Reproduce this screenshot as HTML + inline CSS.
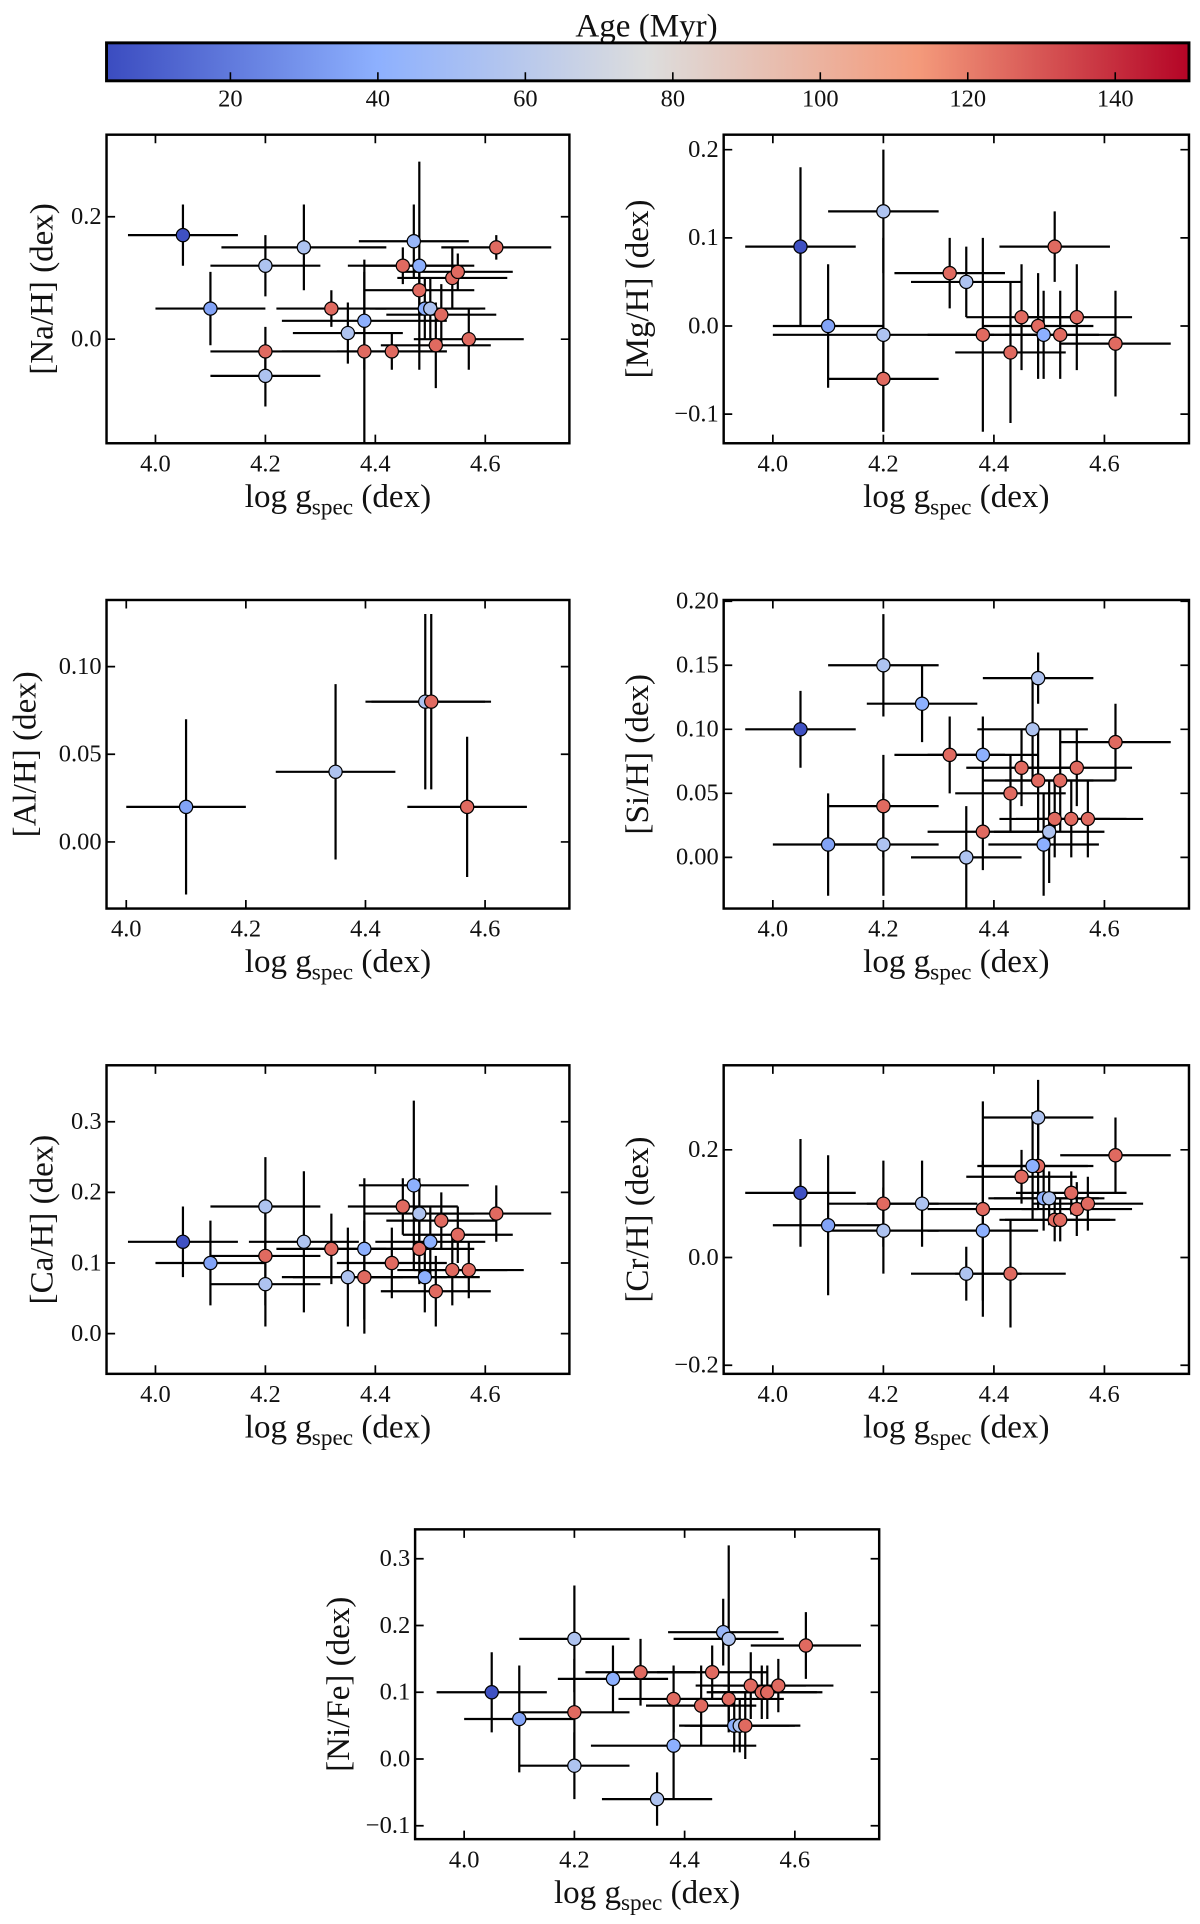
<!DOCTYPE html>
<html><head><meta charset="utf-8"><style>
html,body{margin:0;padding:0;background:#fff}
svg{display:block}
text{font-family:"Liberation Serif",serif;fill:#111}
</style></head><body>
<svg id="fig" width="1200" height="1924" viewBox="0 0 980 1571.3" preserveAspectRatio="none" xmlns="http://www.w3.org/2000/svg">
<defs>
<linearGradient id="cw" x1="0" x2="1" y1="0" y2="0">
<stop offset="0" stop-color="#3b4cc0"/><stop offset="0.25" stop-color="#8db0fe"/><stop offset="0.5" stop-color="#dddddd"/><stop offset="0.75" stop-color="#f49a7b"/><stop offset="1" stop-color="#b40426"/>
</linearGradient>
</defs>
<g id="cbar">
<text x="528" y="30" text-anchor="middle" font-size="27">Age (Myr)</text>
<rect x="87" y="35" width="884" height="31" fill="url(#cw)" stroke="#000" stroke-width="2.4"/>
</g>
<g id="panels"></g>
</svg>
<script>
// colorbar
const cbTicks=[20,40,60,80,100,120,140];
const ageMin=3.2, ageMax=150;
// data: x = log g, y = abundance, a = age, ex/ey = errors
const naX=[4.05,4.10,4.20,4.20,4.20,4.27,4.32,4.35,4.38,4.38,4.43,4.45,4.47,4.48,4.48,4.49,4.50,4.51,4.52,4.54,4.55,4.57,4.62];
const naY=[0.17,0.05,0.12,-0.02,-0.06,0.15,0.05,0.01,0.03,-0.02,-0.02,0.12,0.16,0.12,0.08,0.05,0.05,-0.01,0.04,0.10,0.11,0.00,0.15];
const naA=[5,35,55,125,55,55,125,55,40,125,125,125,45,40,125,40,55,125,125,125,125,125,125];
const naEx=[0.1,0.1,0.1,0.1,0.1,0.15,0.1,0.1,0.15,0.15,0.1,0.1,0.1,0.1,0.1,0.1,0.1,0.1,0.1,0.1,0.1,0.1,0.1];
const naEy=[0.05,0.06,0.05,0.04,0.05,0.07,0.03,0.05,0.08,0.15,0.03,0.03,0.06,0.17,0.04,0.05,0.05,0.07,0.05,0.05,0.03,0.05,0.02];

const mgX=[4.05,4.10,4.20,4.20,4.20,4.32,4.35,4.38,4.43,4.45,4.48,4.49,4.51,4.52,4.55,4.62];
const mgY=[0.09,0.00,0.13,-0.01,-0.06,0.06,0.05,-0.01,-0.03,0.01,0.00,-0.01,0.09,-0.01,0.01,-0.02];
const mgA=[5,35,55,55,125,125,55,125,125,125,125,40,125,125,125,125];
const mgEx=[0.1,0.1,0.1,0.2,0.1,0.1,0.1,0.1,0.1,0.1,0.1,0.1,0.1,0.1,0.1,0.1];
const mgEy=[0.09,0.07,0.07,0.11,0.06,0.04,0.04,0.11,0.08,0.06,0.06,0.05,0.04,0.05,0.06,0.06];

const alX=[4.10,4.35,4.50,4.51,4.57];
const alY=[0.02,0.04,0.08,0.08,0.02];
const alA=[35,55,55,125,125];
const alEx=[0.1,0.1,0.1,0.1,0.1];
const alEy=[0.05,0.05,0.05,0.05,0.04];

const siX=[4.05,4.10,4.20,4.20,4.20,4.27,4.32,4.35,4.38,4.38,4.43,4.45,4.48,4.47,4.48,4.49,4.50,4.51,4.52,4.54,4.55,4.57,4.62];
const siY=[0.10,0.01,0.15,0.04,0.01,0.12,0.08,0.00,0.08,0.02,0.05,0.07,0.14,0.10,0.06,0.01,0.02,0.03,0.06,0.03,0.07,0.03,0.09];
const siA=[5,35,55,125,55,40,125,55,40,125,125,125,55,55,125,40,55,125,125,125,125,125,125];
const siEx=[0.1,0.1,0.1,0.1,0.1,0.1,0.1,0.1,0.1,0.1,0.1,0.1,0.1,0.1,0.1,0.1,0.1,0.1,0.1,0.1,0.1,0.1,0.1];
const siEy=[0.03,0.04,0.04,0.04,0.04,0.03,0.03,0.04,0.03,0.03,0.03,0.03,0.02,0.04,0.04,0.04,0.04,0.03,0.04,0.03,0.03,0.03,0.03];

const caX=[4.05,4.10,4.20,4.20,4.20,4.27,4.32,4.35,4.38,4.38,4.43,4.45,4.47,4.48,4.48,4.49,4.50,4.51,4.52,4.54,4.55,4.57,4.62];
const caY=[0.13,0.10,0.18,0.11,0.07,0.13,0.12,0.08,0.12,0.08,0.10,0.18,0.21,0.17,0.12,0.08,0.13,0.06,0.16,0.09,0.14,0.09,0.17];
const caA=[5,35,55,125,55,55,125,55,40,125,125,125,40,55,125,40,40,125,125,125,125,125,125];
const caEx=[0.1,0.1,0.1,0.1,0.1,0.1,0.1,0.1,0.1,0.15,0.1,0.1,0.1,0.1,0.1,0.1,0.1,0.1,0.1,0.1,0.1,0.1,0.1];
const caEy=[0.05,0.06,0.07,0.07,0.06,0.10,0.05,0.07,0.10,0.08,0.05,0.04,0.12,0.05,0.05,0.05,0.05,0.05,0.04,0.05,0.04,0.04,0.04];

const crX=[4.05,4.10,4.20,4.20,4.27,4.35,4.38,4.38,4.43,4.45,4.48,4.48,4.47,4.49,4.50,4.51,4.52,4.54,4.55,4.57,4.62];
const crY=[0.12,0.06,0.10,0.05,0.10,-0.03,0.09,0.05,-0.03,0.15,0.26,0.17,0.17,0.11,0.11,0.07,0.07,0.12,0.09,0.10,0.19];
const crA=[5,35,125,55,55,55,125,40,125,125,55,125,40,40,55,125,125,125,125,125,125];
const crEx=[0.1,0.1,0.1,0.1,0.1,0.1,0.1,0.1,0.1,0.1,0.1,0.1,0.1,0.1,0.1,0.1,0.1,0.1,0.1,0.1,0.1];
const crEy=[0.1,0.13,0.08,0.08,0.08,0.05,0.2,0.13,0.1,0.05,0.07,0.08,0.1,0.06,0.05,0.04,0.04,0.04,0.05,0.05,0.07];

const niX=[4.05,4.10,4.20,4.20,4.20,4.27,4.32,4.35,4.38,4.38,4.43,4.45,4.47,4.48,4.48,4.49,4.50,4.51,4.52,4.54,4.55,4.57,4.62];
const niY=[0.10,0.06,0.18,0.07,-0.01,0.12,0.13,-0.06,0.09,0.02,0.08,0.13,0.19,0.18,0.09,0.05,0.05,0.05,0.11,0.10,0.10,0.11,0.17];
const niA=[5,35,55,125,55,40,125,55,125,40,125,125,45,55,125,40,55,125,125,125,125,125,125];
const niEx=[0.1,0.1,0.1,0.1,0.1,0.1,0.1,0.1,0.1,0.15,0.1,0.1,0.1,0.1,0.1,0.1,0.1,0.1,0.1,0.1,0.1,0.1,0.1];
const niEy=[0.06,0.08,0.08,0.08,0.05,0.05,0.05,0.04,0.05,0.08,0.06,0.04,0.05,0.14,0.04,0.04,0.04,0.05,0.05,0.04,0.04,0.04,0.05];

const NS="http://www.w3.org/2000/svg";
const svg=document.getElementById('fig');
function mk(tag,attrs,parent){const e=document.createElementNS(NS,tag);for(const k in attrs)e.setAttribute(k,attrs[k]);(parent||svg).appendChild(e);return e;}
const stops=[[59,76,192],[141,176,254],[221,221,221],[244,154,123],[180,4,38]];
function cmap(a){let t=(a-ageMin)/(ageMax-ageMin);t=Math.max(0,Math.min(1,t));const s=t*4,i=Math.min(3,Math.floor(s)),f=s-i;const c=stops[i].map((v,k)=>Math.round(v+(stops[i+1][k]-v)*f));return `rgb(${c})`;}

// colorbar ticks
const cbG=document.getElementById('cbar');
const cbScale=v=>87+(v-ageMin)/(ageMax-ageMin)*884;
cbTicks.forEach(v=>{
  const x=cbScale(v);
  const l=mk('line',{x1:x,x2:x,y1:66,y2:59,stroke:'#000','stroke-width':1.3},cbG);
  
  
  const t=mk('text',{x:x,y:87,'text-anchor':'middle','font-size':20},cbG);
  t.textContent=v;
  
  
});

const panels=[
 {id:'na',label:'[Na/H] (dex)',L:87,T:110,W:378,H:252,x0:3.911,x1:4.753,y0:-0.17,y1:0.334,yt:[0.0,0.2],yd:1,X:naX,Y:naY,A:naA,EX:naEx,EY:naEy,ylx:34},
 {id:'mg',label:'[Mg/H] (dex)',L:591,T:110,W:380,H:252,x0:3.911,x1:4.753,y0:-0.133,y1:0.217,yt:[-0.1,0.0,0.1,0.2],yd:1,X:mgX,Y:mgY,A:mgA,EX:mgEx,EY:mgEy,ylx:520},
 {id:'al',label:'[Al/H] (dex)',L:87,T:490,W:378,H:252,x0:3.967,x1:4.741,y0:-0.038,y1:0.138,yt:[0.0,0.05,0.10],yd:2,X:alX,Y:alY,A:alA,EX:alEx,EY:alEy,ylx:20},
 {id:'si',label:'[Si/H] (dex)',L:591,T:490,W:380,H:252,x0:3.911,x1:4.753,y0:-0.040,y1:0.201,yt:[0,0.05,0.10,0.15,0.20],yd:2,X:siX,Y:siY,A:siA,EX:siEx,EY:siEy,ylx:520},
 {id:'ca',label:'[Ca/H] (dex)',L:87,T:870,W:378,H:252,x0:3.911,x1:4.753,y0:-0.057,y1:0.380,yt:[0,0.1,0.2,0.3],yd:1,X:caX,Y:caY,A:caA,EX:caEx,EY:caEy,ylx:34},
 {id:'cr',label:'[Cr/H] (dex)',L:591,T:870,W:380,H:252,x0:3.911,x1:4.753,y0:-0.216,y1:0.357,yt:[-0.2,0,0.2],yd:1,X:crX,Y:crY,A:crA,EX:crEx,EY:crEy,ylx:520},
 {id:'ni',label:'[Ni/Fe] (dex)',L:339,T:1249,W:379,H:253,x0:3.911,x1:4.753,y0:-0.120,y1:0.344,yt:[-0.1,0,0.1,0.2,0.3],yd:1,X:niX,Y:niY,A:niA,EX:niEx,EY:niEy,ylx:276}
];
const xTicks=[4.0,4.2,4.4,4.6];
const pg=document.getElementById('panels');
panels.forEach(p=>{
  const g=mk('g',{},pg);
  
  
  const sx=v=>p.L+(v-p.x0)/(p.x1-p.x0)*p.W;
  const sy=v=>p.T+p.H-(v-p.y0)/(p.y1-p.y0)*p.H;
  const B=p.T+p.H,R=p.L+p.W;
  const order=p.X.map((_,i)=>i);
  order.forEach(i=>{
    const cx=sx(p.X[i]),cy=sy(p.Y[i]);
    const eb=mk('path',{d:`M${sx(p.X[i]-p.EX[i])},${cy}H${sx(p.X[i]+p.EX[i])}M${cx},${sy(p.Y[i]-p.EY[i])}V${sy(p.Y[i]+p.EY[i])}`,stroke:'#000','stroke-width':1.8,fill:'none'},g);
    
    
  });
  order.forEach(i=>{
    const c=mk('circle',{cx:sx(p.X[i]),cy:sy(p.Y[i]),r:5.4,fill:cmap(p.A[i]),stroke:'#000','stroke-width':1},g);
    
    
  });
  const fr=mk('rect',{x:p.L,y:p.T,width:p.W,height:p.H,fill:'none',stroke:'#000','stroke-width':2},g);
  
  
  xTicks.forEach(v=>{
    const x=sx(v);
    const tk=mk('path',{d:`M${x},${B}v-7M${x},${p.T}v7`,stroke:'#000','stroke-width':1.4},g);
    
    
    const t=mk('text',{x:x,y:B+23,'text-anchor':'middle','font-size':20},g);
    t.textContent=v.toFixed(1);
    
    
  });
  p.yt.forEach(v=>{
    const y=sy(v);
    const tk=mk('path',{d:`M${p.L},${y}h7M${R},${y}h-7`,stroke:'#000','stroke-width':1.4},g);
    
    
    const t=mk('text',{x:p.L-4,y:y+6,'text-anchor':'end','font-size':20},g);
    t.textContent=(v<0?'\u2212':'')+Math.abs(v).toFixed(p.yd);
    
    
  });
  const xl=mk('text',{x:p.L+p.W/2,y:B+52,'text-anchor':'middle','font-size':27},g);
  xl.innerHTML='log g<tspan font-size="19" dy="6">spec</tspan><tspan dy="-6"> (dex)</tspan>';
  
  
  const yl=mk('text',{x:0,y:0,'text-anchor':'middle','font-size':27,transform:`translate(${p.ylx+9},${p.T+p.H/2}) rotate(-90)`},g);
  yl.textContent=p.label;
  
  
});
</script>
</body></html>
